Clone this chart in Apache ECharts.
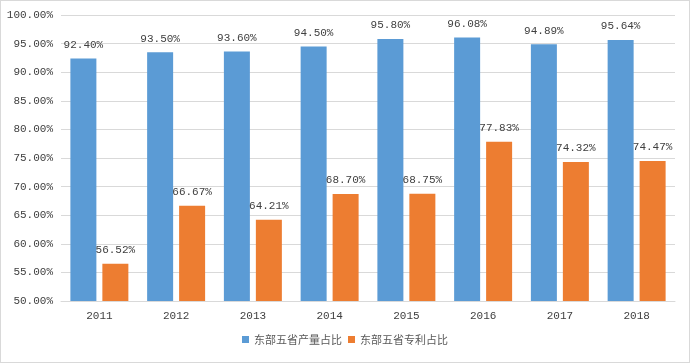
<!DOCTYPE html>
<html>
<head>
<meta charset="utf-8">
<script src="https://cdn.jsdelivr.net/npm/echarts@6/dist/echarts.min.js"></script>
<style>
html,body{margin:0;padding:0;background:#fff;}
#c{width:688px;height:361px;border:1px solid #d9d9d9;}
</style>
</head>
<body>
<div id="c"></div>
<script>
var categories = ['2011','2012','2013','2014','2015','2016','2017','2018'];
var outputShare = [92.40, 93.50, 93.60, 94.50, 95.80, 96.08, 94.89, 95.64];
var patentShare = [56.52, 66.67, 64.21, 68.70, 68.75, 77.83, 74.32, 74.47];
var seriesNames = ['东部五省产量占比', '东部五省专利占比'];

var chart = echarts.init(document.getElementById('c'));
var labelFont = {fontFamily: 'Liberation Mono', fontSize: 11, color: '#404040'};
function lab() {
  return Object.assign({
    show: true, position: 'top', distance: 8,
    formatter: function (p) { return p.value.toFixed(2) + '%'; }
  }, labelFont);
}
chart.setOption({
  animation: false,
  grid: {left: 60, right: 14, top: 14, bottom: 61},
  legend: {
    bottom: 12, left: 'center',
    itemWidth: 7, itemHeight: 7, itemGap: 6,
    icon: 'rect',
    textStyle: {fontFamily: 'Noto Sans CJK SC', fontSize: 11, color: '#595959'},
    data: seriesNames
  },
  xAxis: {
    type: 'category', data: categories,
    axisLine: {lineStyle: {color: '#d9d9d9'}},
    axisTick: {show: false},
    axisLabel: {fontFamily: 'Liberation Mono', fontSize: 11, color: '#404040', margin: 10}
  },
  yAxis: {
    type: 'value', min: 50, max: 100, interval: 5,
    axisLine: {show: false}, axisTick: {show: false},
    splitLine: {lineStyle: {color: '#d9d9d9'}},
    axisLabel: {fontFamily: 'Liberation Mono', fontSize: 11, color: '#404040', margin: 8,
      formatter: function (v) { return v.toFixed(2) + '%'; }}
  },
  series: [
    {name: seriesNames[0], type: 'bar', data: outputShare, barWidth: 26, barGap: '23%',
     itemStyle: {color: '#5B9BD5'}, label: lab()},
    {name: seriesNames[1], type: 'bar', data: patentShare, barWidth: 26,
     itemStyle: {color: '#ED7D31'}, label: lab()}
  ]
});
</script>
</body>
</html>
